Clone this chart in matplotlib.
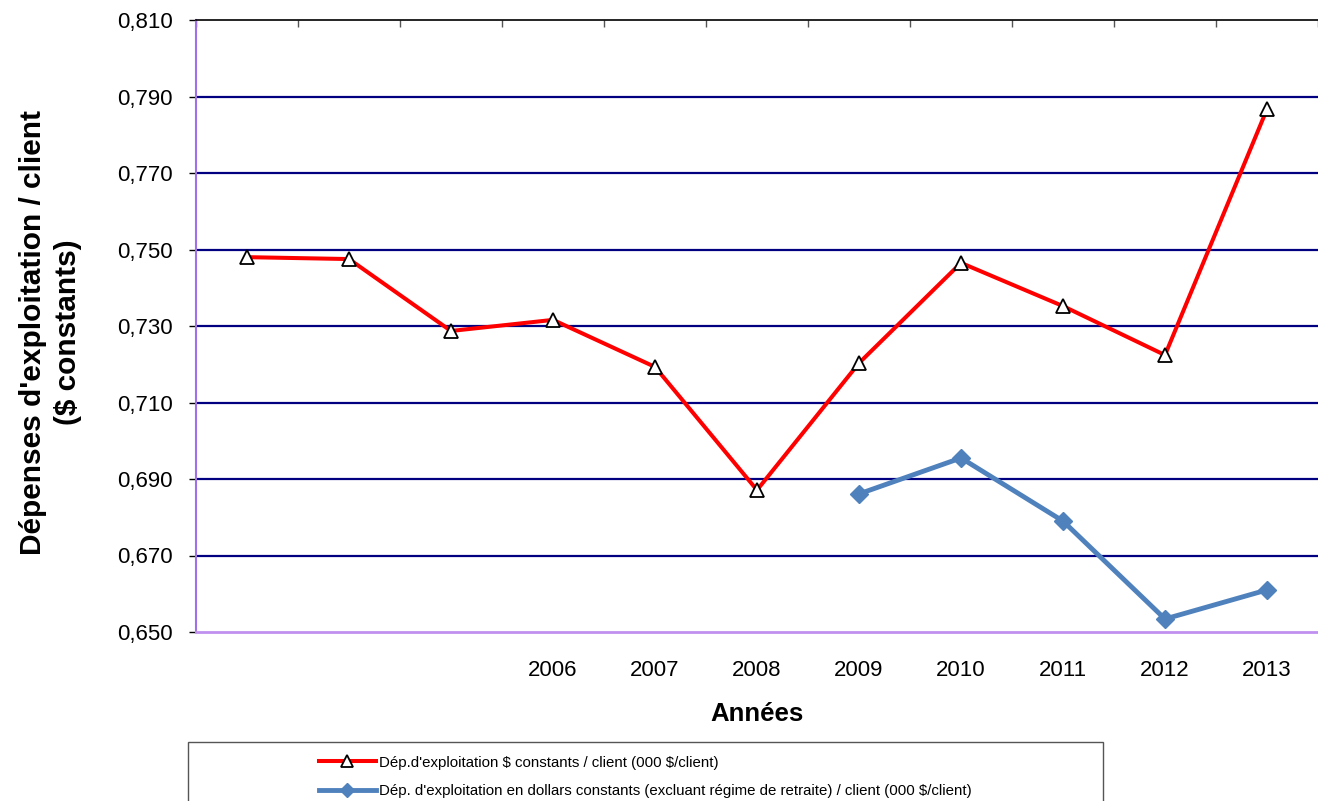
import matplotlib
matplotlib.use("Agg")
import matplotlib.pyplot as plt
import numpy as np
from matplotlib.patches import Rectangle

categories = ["", "", "", "2006", "2007", "2008", "2009", "2010", "2011", "2012", "2013"]
dep_constants = [0.7480, 0.7475, 0.7287, 0.7316, 0.7193, 0.6871, 0.7203, 0.7465, 0.7352, 0.7224, 0.7867]
dep_hors_retraite = [None, None, None, None, None, None, 0.6861, 0.6955, 0.6790, 0.6534, 0.6610]
y_ticks = [0.650, 0.670, 0.690, 0.710, 0.730, 0.750, 0.770, 0.790, 0.810]
y_tick_labels = ["0,650", "0,670", "0,690", "0,710", "0,730", "0,750", "0,770", "0,790", "0,810"]
label_red = "Dép.d'exploitation \\$ constants / client (000 \\$/client)"
label_blue = "Dép. d'exploitation en dollars constants (excluant régime de retraite) / client (000 \\$/client)"

plt.rcParams['font.family'] = ['Liberation Sans', 'DejaVu Sans']

W, H = 1318, 801
fig = plt.figure(figsize=(W / 100, H / 100), dpi=100)
ax = fig.add_axes([196 / W, (H - 632) / H, (1318 - 196) / W, (632 - 20) / H])

x = np.arange(len(categories))
blue = np.array([np.nan if v is None else v for v in dep_hors_retraite], dtype=float)

for yv in y_ticks[1:-1]:
    ax.axhline(yv, color="#000080", lw=1.6, zorder=1)

ax.plot(x, dep_constants, color="#FF0000", lw=2.9, marker="^", markersize=10,
        markerfacecolor="white", markeredgecolor="black", markeredgewidth=1.3,
        label=label_red, zorder=3)
ax.plot(x, blue, color="#4F81BD", lw=3.5, marker="D", markersize=9.5,
        markerfacecolor="#4F81BD", markeredgecolor="#4F81BD",
        label=label_blue, zorder=3)

ax.set_xlim(-0.5, len(categories) - 0.5)
ax.set_ylim(0.650, 0.810)
ax.set_yticks(y_ticks)
ax.set_yticklabels(y_tick_labels, fontsize=16)
ax.set_xticks(x)
ax.set_xticklabels(categories, fontsize=16)
ax.tick_params(axis="x", length=0, pad=20)
ax.tick_params(axis="y", length=5, width=1, direction="out", pad=12)

# Category separators on top edge
sec = ax.secondary_xaxis("top")
sec.set_xticks(np.arange(-0.5, len(categories) + 0.5, 1.0))
sec.set_xticklabels([])
sec.tick_params(direction="in", length=5, color="#555555", width=1)
sec.spines["top"].set_visible(False)

ax.spines["left"].set_color("#A070E8")
ax.spines["left"].set_linewidth(1.5)
ax.spines["bottom"].set_color("#C090F0")
ax.spines["bottom"].set_linewidth(2)
ax.spines["top"].set_color("#000000")
ax.spines["top"].set_linewidth(1.2)
ax.spines["right"].set_visible(False)

ax.set_ylabel("Dépenses d'exploitation / client\n($ constants)", fontsize=21.5,
              fontweight="bold", linespacing=1.3)
ax.yaxis.set_label_coords(-0.1016, 0.49)
ax.set_xlabel("Années", fontsize=18.5, fontweight="bold", labelpad=15)

# Legend box
fig.patches.append(Rectangle((188 / W, -0.05), (1103 - 188) / W, (801 - 742) / H + 0.05,
                             transform=fig.transFigure, facecolor="white",
                             edgecolor="#555555", lw=1))
handles, labels = ax.get_legend_handles_labels()
leg = fig.legend(handles, labels, loc="upper left",
                 bbox_to_anchor=(308 / W, (H - 745) / H), frameon=False,
                 fontsize=10.8, handlelength=3.8, labelspacing=0.95,
                 handletextpad=0.25, borderpad=0.2, markerscale=0.8)

fig.savefig("out.png", dpi=100)
